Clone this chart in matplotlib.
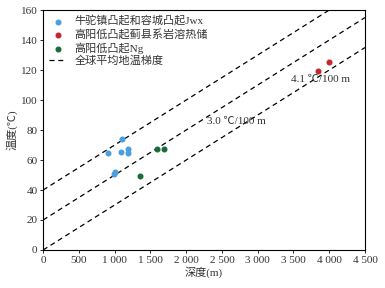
import numpy as np
import matplotlib
matplotlib.use("Agg")
import matplotlib.pyplot as plt

plt.rcParams['font.family'] = ['Liberation Serif', 'Noto Sans CJK SC']
plt.rcParams['font.size'] = 8

# data
jwx_depth = [913, 990, 1000, 1094, 1108, 1192, 1192]
jwx_temp = [65, 51, 52, 65.5, 74, 67.5, 64.5]
jx_depth = [3843, 3992]
jx_temp = [119.5, 125.5]
ng_depth = [1351, 1589, 1696]
ng_temp = [49.5, 67.5, 67.5]

line_intercepts = [0, 20, 40]
gradient = 0.03  # degC per m
line_depth = np.array([0, 4500])

xticks = [0, 500, 1000, 1500, 2000, 2500, 3000, 3500, 4000, 4500]
xticklabels = ['0', '500', '1 000', '1 500', '2 000', '2 500', '3 000', '3 500', '4 000', '4 500']
yticks = [0, 20, 40, 60, 80, 100, 120, 140, 160]

fig = plt.figure(figsize=(3.85, 2.88), dpi=100)
ax = fig.add_axes([0.112, 0.132, 0.836, 0.833])

ax.scatter(jwx_depth, jwx_temp, s=11, color='#4a9fe0', label='牛驼镇凸起和容城凸起Jwx', zorder=3)
ax.scatter(jx_depth, jx_temp, s=11, color='#c0282d', label='高阳低凸起蓟县系岩溶热储', zorder=3)
ax.scatter(ng_depth, ng_temp, s=11, color='#1a6b3a', label='高阳低凸起Ng', zorder=3)
for i, b in enumerate(line_intercepts):
    ax.plot(line_depth, b + gradient * line_depth, color='black', lw=0.9,
            ls=(0, (4, 3)), label='全球平均地温梯度' if i == 0 else None)

ax.text(3466, 112, '4.1 ℃/100 m', fontsize=8, color='#333333')
ax.text(2290, 84, '3.0 ℃/100 m', fontsize=8, color='#333333')

ax.set_xlim(0, 4500)
ax.set_ylim(0, 160)
ax.set_xticks(xticks)
ax.set_xticklabels(xticklabels)
ax.set_yticks(yticks)
ax.tick_params(length=2, width=0.6, pad=2, labelcolor='#333333')
ax.set_xlabel('深度(m)', labelpad=1, color='#333333')
ax.set_ylabel('温度(℃)', labelpad=2, color='#333333')

leg = ax.legend(loc='upper left', frameon=False, handlelength=1.6, handletextpad=0.7,
                labelspacing=0.2, borderaxespad=0.1, fontsize=8)
for t in leg.get_texts():
    t.set_color('#333333')

fig.savefig('out.png', dpi=100)
